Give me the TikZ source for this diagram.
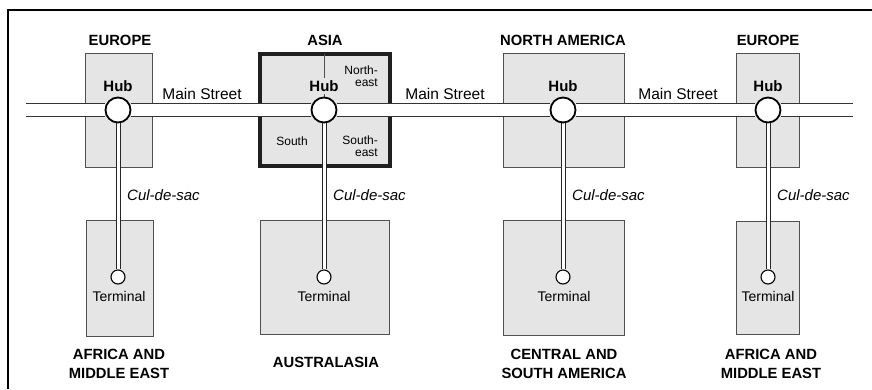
\documentclass[tikz,border=0pt]{standalone}
\usepackage{fontspec}
\setmainfont{Liberation Sans}
\usepackage{xcolor}
\definecolor{regiongray}{RGB}{229,229,230}
\definecolor{edgegray}{RGB}{80,80,80}
\pgfdeclarelayer{bg}
\pgfdeclarelayer{mid}
\pgfsetlayers{bg,mid,main}
\tikzset{
  region/.style={rectangle, draw=edgegray, line width=0.9pt, fill=regiongray, inner sep=0pt},
  hubregion/.style={rectangle, draw=black!88, line width=4pt, fill=regiongray, inner sep=0pt},
  street/.style={draw=black!80, line width=1.1pt, double=white, double distance=11.9pt},
  culdesac/.style={draw=black!85, line width=1pt, double=white, double distance=3pt},
  hub/.style={circle, draw=black, line width=1.8pt, fill=white, minimum size=25pt, inner sep=0pt},
  terminal/.style={circle, draw=black, line width=1.1pt, fill=white, minimum size=14pt, inner sep=0pt},
  continent/.style={font=\fontsize{14.8}{19}\selectfont\bfseries, align=center},
  hublabel/.style={font=\fontsize{15}{18}\selectfont\bfseries, inner sep=2pt},
  streetlabel/.style={font=\fontsize{15.5}{18}\selectfont},
  cdslabel/.style={font=\fontsize{15}{18}\selectfont\itshape, anchor=west, inner sep=0pt},
  termlabel/.style={font=\fontsize{14}{16}\selectfont},
  sector/.style={font=\fontsize{12}{12.5}\selectfont, align=right, anchor=east, inner sep=0pt}
}
\newcommand{\culdesac}[2]{\draw[culdesac] (#1) -- (#2);}

\begin{document}
\begin{tikzpicture}[x=1pt, y=-1pt]
\useasboundingbox (0,0) rectangle (872,389);
\draw[line width=1.3pt] (8,389) -- (8,10) -- (872,10);

\begin{pgfonlayer}{bg}
\node[region, minimum width=67pt, minimum height=114pt] (boxEU) at (118.5,110) {};
\node[hubregion, minimum width=130pt, minimum height=112pt] (boxAS) at (325,110) {};
\draw[edgegray, line width=0.9pt] (boxAS.north) ++(-1,2) -- (324,98);
\node[region, minimum width=121pt, minimum height=114pt] (boxNA) at (563.5,110) {};
\node[region, minimum width=63pt, minimum height=114pt] (boxEUb) at (767.5,110) {};
\node[region, minimum width=67pt, minimum height=116pt] (boxAF) at (119.5,278) {};
\node[region, minimum width=129pt, minimum height=114pt] (boxAU) at (324.5,277) {};
\node[region, minimum width=121pt, minimum height=115pt] (boxSA) at (563.5,277.5) {};
\node[region, minimum width=63pt, minimum height=113pt] (boxAFb) at (767.5,277.5) {};
\end{pgfonlayer}

\node[continent] at (120,40) {EUROPE};
\node[continent] at (325,40) {ASIA};
\node[continent] at (563,40) {NORTH AMERICA};
\node[continent] at (768,40) {EUROPE};
\node[continent] at (119,363.5) {AFRICA AND\\MIDDLE EAST};
\node[continent] at (326,362) {AUSTRALASIA};
\node[continent] at (564,363.5) {CENTRAL AND\\SOUTH AMERICA};
\node[continent] at (771,363.5) {AFRICA AND\\MIDDLE EAST};

\node[hublabel] (lblEU) at (118,86) {Hub};
\node[hublabel, fill=regiongray] (lblAS) at (324,86) {Hub};
\node[hublabel] (lblNA) at (563,86) {Hub};
\node[hublabel] (lblEUb) at (768,86) {Hub};

\node[sector] (ne) at (378,76) {North-\\east};
\node[font=\fontsize{12}{12.5}\selectfont] (so) at (292,141) {South};
\node[sector] (se) at (378,146) {South-\\east};

\node[streetlabel] at (202,93.5) {Main Street};
\node[streetlabel] at (445,93.5) {Main Street};
\node[streetlabel] at (678,93.5) {Main Street};

\coordinate (streetW) at (26,110);
\coordinate (streetE) at (853,110);
\node[hub] (hubEU) at (118,110) {};
\node[hub] (hubAS) at (324,110) {};
\node[hub] (hubNA) at (563,110) {};
\node[hub] (hubEUb) at (768,110) {};

\node[terminal] (termAF) at (118,277) {};
\node[terminal] (termAU) at (324,277) {};
\node[terminal] (termSA) at (563,277) {};
\node[terminal] (termAFb) at (768,277) {};
\node[termlabel] at (119,296) {Terminal};
\node[termlabel] at (324,296) {Terminal};
\node[termlabel] at (564,296) {Terminal};
\node[termlabel] at (768,296) {Terminal};

\begin{pgfonlayer}{mid}
\draw[street] (streetW) -- (hubEU);
\draw[street] (hubEU) -- (hubAS);
\draw[street] (hubAS) -- (hubNA);
\draw[street] (hubNA) -- (hubEUb);
\draw[street] (hubEUb) -- (streetE);
\culdesac{hubEU}{termAF}
\culdesac{hubAS}{termAU}
\culdesac{hubNA}{termSA}
\culdesac{hubEUb}{termAFb}
\end{pgfonlayer}

\node[cdslabel] at (127,195) {Cul-de-sac};
\node[cdslabel] at (333,195) {Cul-de-sac};
\node[cdslabel] at (572,195) {Cul-de-sac};
\node[cdslabel] at (777,195) {Cul-de-sac};
\end{tikzpicture}
\end{document}
